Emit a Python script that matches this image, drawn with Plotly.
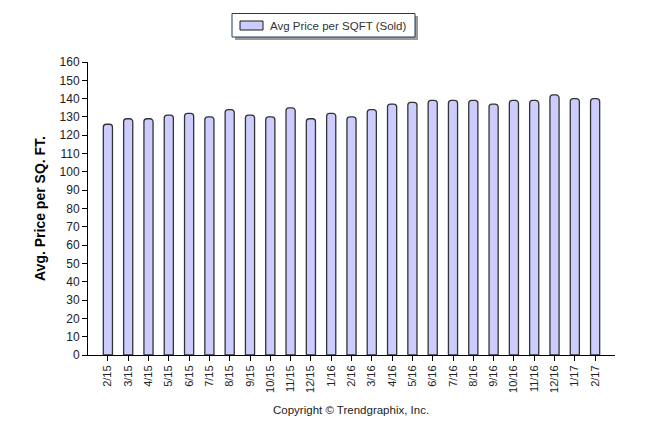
import plotly.graph_objects as go

months = ["2/15","3/15","4/15","5/15","6/15","7/15","8/15","9/15","10/15","11/15","12/15",
          "1/16","2/16","3/16","4/16","5/16","6/16","7/16","8/16","9/16","10/16","11/16","12/16",
          "1/17","2/17"]
price = [126,129,129,131,132,130,134,131,130,135,129,132,130,134,137,138,139,139,139,137,139,139,142,140,140]
yticks = list(range(0, 161, 10))
series_name = "Avg Price per SQFT (Sold)"

L, R, T, B = 88, 31, 62, 79
W, H = 646, 434
PW, PH = W - L - R, H - T - B

def px(x):
    return (x - L) / PW

def py(y):
    return (H - B - y) / PH

fig = go.Figure()
fig.add_trace(go.Bar(
    x=list(range(len(months))), y=price, name=series_name,
    width=0.45, showlegend=False,
    marker=dict(color="#CCCCFF", line=dict(color="#333333", width=1.3), cornerradius=3),
))

shapes = [
    dict(type="rect", xref="paper", yref="paper", x0=px(235), x1=px(418), y0=py(40), y1=py(16),
         fillcolor="#9A9A9A", line=dict(width=0), layer="above"),
    dict(type="rect", xref="paper", yref="paper", x0=px(232), x1=px(415), y0=py(37), y1=py(13.5),
         fillcolor="white", line=dict(color="#1F3B5E", width=1), layer="above"),
    dict(type="rect", xref="paper", yref="paper", x0=px(240), x1=px(263), y0=py(30), y1=py(21),
         fillcolor="#CCCCFF", line=dict(color="#1a1a1a", width=1), layer="above"),
]

fig.update_layout(
    width=W, height=H,
    margin=dict(l=L, r=R, t=T, b=B),
    paper_bgcolor="white", plot_bgcolor="white",
    font=dict(family="Liberation Sans, Arial", size=11, color="#000000"),
    showlegend=False,
    shapes=shapes,
    xaxis=dict(
        tickmode="array", tickvals=list(range(len(months))), ticktext=months,
        tickangle=-90, range=[-0.98, 24.98],
        showline=True, linecolor="black", linewidth=1,
        ticks="outside", ticklen=5, tickcolor="black",
        showgrid=False, zeroline=False,
        tickfont=dict(size=11, color="#222222"),
    ),
    yaxis=dict(
        range=[0, 160], tickvals=yticks,
        showline=True, linecolor="black", linewidth=1,
        ticks="outside", ticklen=5, tickcolor="black",
        showgrid=False, zeroline=False,
        title=dict(text="Avg. Price per SQ. FT.", font=dict(size=14, color="black", family="Liberation Sans", weight="bold"), standoff=10),
        tickfont=dict(size=12, color="#222222"),
    ),
    annotations=[
        dict(text=series_name, xref="paper", yref="paper",
             x=px(268), y=py(25.5), xanchor="left", yanchor="middle", showarrow=False,
             font=dict(size=11.5, color="#333333")),
        dict(text="Copyright © Trendgraphix, Inc.", xref="paper", yref="paper",
             x=px(351), y=py(410), xanchor="center", yanchor="middle", showarrow=False,
             font=dict(size=11.5, color="#222222")),
    ],
)
fig.write_html("out.html", config={"displayModeBar": False},
               post_script="document.body.style.margin='0';")
